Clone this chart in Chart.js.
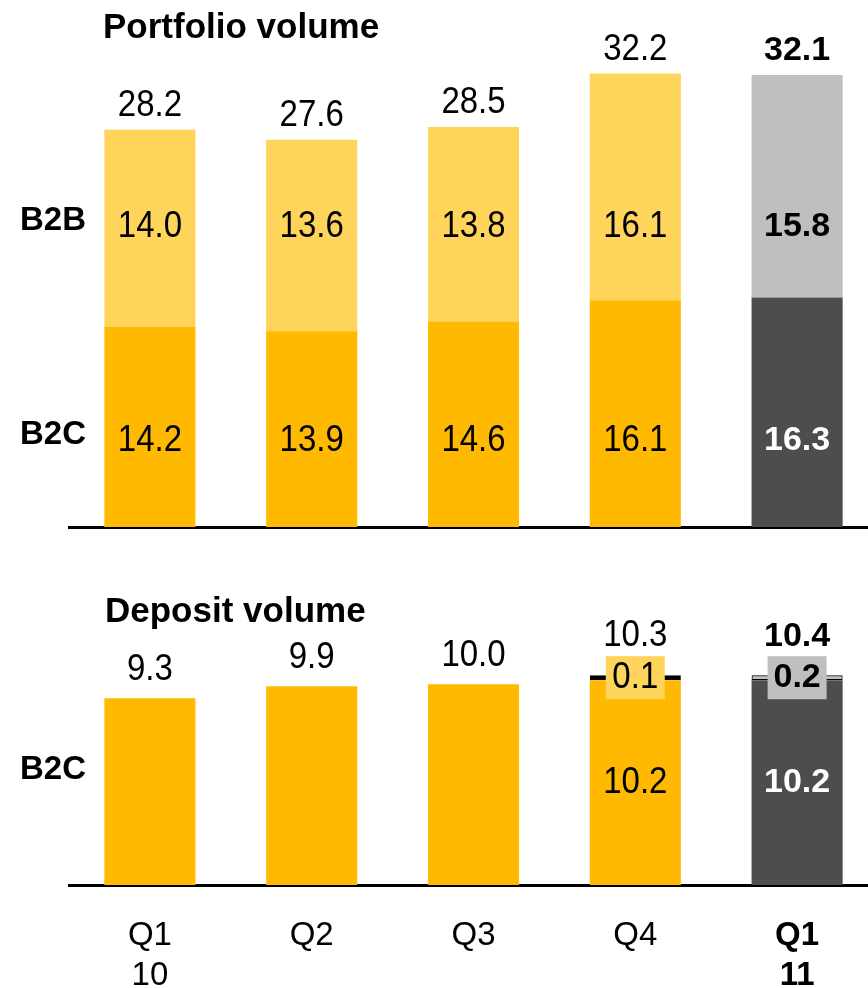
<!DOCTYPE html>
<html>
<head>
<meta charset="utf-8">
<script src="https://cdn.jsdelivr.net/npm/chart.js@4"></script>
<style>
    html, body { margin: 0; padding: 0; background: #fff; overflow: hidden; width: 868px; height: 988px; }
    .wrap { position: relative; width: 878px; }
</style>
</head>
<body>
<div class="wrap" style="height:560px"><canvas id="portfolioChart"></canvas></div>
<div class="wrap" style="height:462px"><canvas id="depositChart"></canvas></div>
<script>
const quarters = [['Q1', '10'], 'Q2', 'Q3', 'Q4', ['Q1', '11']];

const portfolioB2C = [14.2, 13.9, 14.6, 16.1, 16.3];
const portfolioB2B = [14.0, 13.6, 13.8, 16.1, 15.8];
const portfolioTotal = [28.2, 27.6, 28.5, 32.2, 32.1];

const depositB2C = [9.3, 9.9, 10.0, 10.2, 10.2];
const depositOther = [0, 0, 0, 0.1, 0.2];
const depositTotal = [9.3, 9.9, 10.0, 10.3, 10.4];

const FONT = "'Liberation Sans', Arial, sans-serif";
const yellow = '#FFB900', lightYellow = '#FFD45A', dark = '#4D4D4D', grey = '#BFBFBF';
const LAST = quarters.length - 1;
const pick = (i, normal, last) => i === LAST ? last : normal;

// value text: regular numbers are a bit taller than Arial in the original
function label(ctx, text, x, y, i, color) {
    ctx.save();
    ctx.fillStyle = color || '#000';
    ctx.textAlign = 'center';
    ctx.textBaseline = 'middle';
    ctx.translate(x, y);
    if (i === LAST) {
        ctx.font = 'bold 34px ' + FONT;
    } else {
        ctx.font = '33px ' + FONT;
        ctx.scale(1, 1.1);
    }
    ctx.fillText(text, 0, 0);
    ctx.restore();
}

function heading(ctx, text, x, y, size) {
    ctx.save();
    ctx.fillStyle = '#000';
    ctx.textAlign = 'left';
    ctx.textBaseline = 'middle';
    ctx.font = 'bold ' + size + 'px ' + FONT;
    ctx.fillText(text, x, y);
    ctx.restore();
}

// labels for the portfolio chart
const portfolioLabels = {
    id: 'portfolioLabels',
    afterDatasetsDraw(chart) {
        const ctx = chart.ctx;
        const y = chart.scales.y;
        const b2c = chart.getDatasetMeta(0).data;
        const b2b = chart.getDatasetMeta(1).data;
        portfolioTotal.forEach((v, i) => {
            label(ctx, v.toFixed(1), b2b[i].x, b2b[i].y - 24, i);
            label(ctx, portfolioB2B[i].toFixed(1), b2b[i].x, y.getPixelForValue(21.3), i);
            label(ctx, portfolioB2C[i].toFixed(1), b2c[i].x, y.getPixelForValue(6.1), i, pick(i, '#000', '#fff'));
        });
        heading(ctx, 'B2B', 20, 221, 33);
        heading(ctx, 'B2C', 20, 435, 33);
        heading(ctx, 'Portfolio volume', 103, 28, 35);
    }
};

// labels for the deposit chart
const depositLabels = {
    id: 'depositLabels',
    afterDatasetsDraw(chart) {
        const ctx = chart.ctx;
        const base = chart.getDatasetMeta(0).data;
        const other = chart.getDatasetMeta(1).data;
        depositTotal.forEach((v, i) => {
            const x = base[i].x;
            if (depositOther[i] > 0) {
                label(ctx, v.toFixed(1), x, other[i].y - 39, i);
                const cy = (other[i].y + other[i].base) / 2;
                ctx.fillStyle = pick(i, lightYellow, grey);
                ctx.fillRect(x - 29.5, cy - 21.5, 59, 43);
                label(ctx, depositOther[i].toFixed(1), x, cy, i);
                label(ctx, depositB2C[i].toFixed(1), x, (base[i].y + base[i].base) / 2, i, pick(i, '#000', '#fff'));
            } else {
                label(ctx, v.toFixed(1), x, base[i].y - 28, i);
            }
        });
        heading(ctx, 'B2C', 20, 210, 33);
        heading(ctx, 'Deposit volume', 105, 52, 35);
    }
};

const common = {
    responsive: true,
    maintainAspectRatio: false,
    animation: false,
    datasets: { bar: { categoryPercentage: 1, barPercentage: 0.563 } },
    plugins: { legend: { display: false }, tooltip: { enabled: false } }
};

// 1. Portfolio volume
new Chart(document.getElementById('portfolioChart'), {
    type: 'bar',
    data: {
        labels: quarters,
        datasets: [
            { label: 'B2C', data: portfolioB2C, backgroundColor: quarters.map((q, i) => pick(i, yellow, dark)) },
            { label: 'B2B', data: portfolioB2B, backgroundColor: quarters.map((q, i) => pick(i, lightYellow, grey)) }
        ]
    },
    options: {
        ...common,
        layout: { padding: { top: 20, bottom: 33, left: 69, right: 0 } },
        scales: {
            x: {
                stacked: true,
                grid: { display: false, drawTicks: false },
                ticks: { display: false },
                border: { display: true, color: '#000', width: 3 }
            },
            y: { stacked: true, display: false, min: 0, max: 36 }
        }
    },
    plugins: [portfolioLabels]
});

// 2. Deposit volume
new Chart(document.getElementById('depositChart'), {
    type: 'bar',
    data: {
        labels: quarters,
        datasets: [
            { label: 'B2C', data: depositB2C, backgroundColor: quarters.map((q, i) => pick(i, yellow, dark)) },
            {
                label: 'Other',
                data: depositOther.map(v => v > 0 ? v : null),
                backgroundColor: quarters.map((q, i) => pick(i, lightYellow, grey)),
                borderColor: '#000',
                borderWidth: c => pick(c.dataIndex, 3, 1.2),
                borderSkipped: false,
                minBarLength: 5
            }
        ]
    },
    options: {
        ...common,
        layout: { padding: { top: 64, bottom: -5, left: 69, right: 0 } },
        scales: {
            x: {
                stacked: true,
                grid: { display: false, drawTicks: false },
                border: { display: true, color: '#000', width: 3 },
                ticks: {
                    color: '#000',
                    padding: 31,
                    maxRotation: 0,
                    autoSkip: false,
                    font: c => ({ family: FONT, size: 33, lineHeight: 40 / 33, weight: c.index === LAST ? 'bold' : 'normal' })
                }
            },
            y: { stacked: true, display: false, min: 0, max: 13 }
        }
    },
    plugins: [depositLabels]
});
</script>
</body>
</html>
